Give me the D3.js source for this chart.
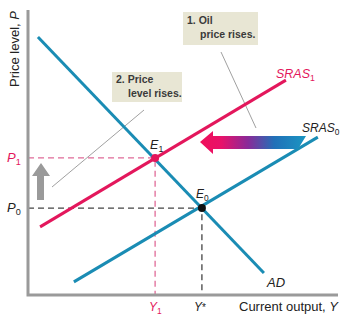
<!DOCTYPE html>
<html>
<head>
<meta charset="utf-8">
<script src="https://cdn.jsdelivr.net/npm/d3@7"></script>
<style>
  body { margin: 0; background: #fff; }
  text { font-family: "Liberation Sans", Arial, sans-serif; fill: #222; }
</style>
</head>
<body>
<div id="chart"></div>
<script>
// curves in chart units (0-100 on both axes)
var adCurve = [[3.2, 90.5], [76.1, 7.7]];
var srasOld = [[14.8, 4.6], [93.5, 55.4]];
var srasNew = [[3.9, 23.9], [83.2, 75.4]];
// equilibria
var eqNames = ['E0', 'E1'];
var eqPoints = [[56.1, 30.5], [41.0, 48.1]];
// tick labels
var yTickLabels = ['P0', 'P1'];
var xTickLabels = ['Y*', 'Y1'];
var notes = [['1. Oil', 'price rises.'], ['2. Price', 'level rises.']];

var W = 342, H = 315;
var pink = '#e3175c', blue = '#1a8cb4', grey = '#9a9a9a';

var x = d3.scaleLinear().domain([0, 100]).range([28, 338]);
var y = d3.scaleLinear().domain([0, 100]).range([295, 10]);

var svg = d3.select('#chart').append('svg')
  .attr('width', W).attr('height', H);

var defs = svg.append('defs');
var grad = defs.append('linearGradient').attr('id', 'shift')
  .attr('x1', '0%').attr('x2', '100%');
[['0%', '#f0105a'], ['20%', '#e8126a'], ['45%', '#8a2a98'], ['70%', '#2170b8'], ['100%', '#1a96c2']]
  .forEach(function(s) {
    grad.append('stop').attr('offset', s[0]).attr('stop-color', s[1]);
  });

var line = d3.line().x(function(d) { return x(d[0]); }).y(function(d) { return y(d[1]); });

// annotation boxes
var boxes = [{x: 183, y: 12, w: 75, h: 33, tx: [187, 200], ty: [24, 38]},
             {x: 112, y: 72, w: 70, h: 30, tx: [116, 128], ty: [83, 97]}];
boxes.forEach(function(b, i) {
  svg.append('rect').attr('x', b.x).attr('y', b.y).attr('width', b.w).attr('height', b.h)
    .attr('fill', '#e8e6d4');
  notes[i].forEach(function(t, j) {
    svg.append('text').attr('x', b.tx[j]).attr('y', b.ty[j])
      .attr('font-size', 10.5).style('font-weight', 'bold').style('fill', '#3a3a3a').text(t);
  });
});
// leader lines
svg.append('line').attr('x1', 221).attr('y1', 52).attr('x2', 256).attr('y2', 128)
  .attr('stroke', '#888').attr('stroke-width', 0.8);
svg.append('line').attr('x1', 144).attr('y1', 110).attr('x2', 52).attr('y2', 187)
  .attr('stroke', '#888').attr('stroke-width', 0.8);

// guide lines
var e0 = eqPoints[0], e1 = eqPoints[1];
svg.append('path').attr('d', line([[0, e0[1]], e0, [e0[0], 0]]))
  .attr('fill', 'none').attr('stroke', '#444').attr('stroke-width', 1.3)
  .attr('stroke-dasharray', '6,4');
svg.append('path').attr('d', line([[0, e1[1]], e1, [e1[0], 0]]))
  .attr('fill', 'none').attr('stroke', '#e06b98').attr('stroke-width', 1.3)
  .attr('stroke-dasharray', '6,4');

// curves
svg.append('path').attr('d', line(adCurve)).attr('stroke', blue).attr('stroke-width', 3).attr('fill', 'none');
svg.append('path').attr('d', line(srasOld)).attr('stroke', blue).attr('stroke-width', 3).attr('fill', 'none');
svg.append('path').attr('d', line(srasNew)).attr('stroke', pink).attr('stroke-width', 3).attr('fill', 'none');

// shift arrow
svg.append('path')
  .attr('d', 'M200,142 L213,131 L213,136 L306,136 L298,149 L213,149 L213,154 Z')
  .attr('fill', 'url(#shift)');
// price up arrow
svg.append('path')
  .attr('d', 'M41,163 L50,176 L44,176 L44,200 L37,200 L37,176 L32,176 Z')
  .attr('fill', grey);

// axes
svg.append('path').attr('d', 'M' + x(0) + ',' + y(100) + 'V' + y(0) + 'H' + x(100))
  .attr('fill', 'none').attr('stroke', grey).attr('stroke-width', 3);

// equilibrium dots
svg.selectAll('.eq').data(eqPoints).enter().append('circle')
  .attr('cx', function(d) { return x(d[0]); }).attr('cy', function(d) { return y(d[1]); })
  .attr('r', 4).attr('fill', function(d, i) { return i ? pink : '#111'; });

function subLabel(px, py, base, sub, color, size, italicBase) {
  var t = svg.append('text').attr('x', px).attr('y', py).attr('font-size', size)
    .style('fill', color);
  t.append('tspan').style('font-style', italicBase ? 'italic' : 'normal').text(base);
  if (sub) t.append('tspan').attr('dy', 3).attr('font-size', size * 0.7).text(sub);
  return t;
}
subLabel(x(e0[0]) - 6, y(e0[1]) - 10, 'E', eqNames[0].slice(1), '#222', 12, true);
subLabel(x(e1[0]) - 5, y(e1[1]) - 9, 'E', eqNames[1].slice(1), '#222', 12.5, true);
subLabel(7, y(e0[1]) + 4, 'P', yTickLabels[0].slice(1), '#222', 13, true);
subLabel(7, y(e1[1]) + 4, 'P', yTickLabels[1].slice(1), pink, 13, true);
subLabel(x(e0[0]) - 8, 311, 'Y', '*', '#222', 12, true).select('tspan:last-child').attr('dy', 0).attr('font-size', 10);
subLabel(x(e1[0]) - 6, 311, 'Y', xTickLabels[1].slice(1), pink, 12, true);
subLabel(276, 78, 'SRAS', '1', pink, 12.5, true);
subLabel(302, 132, 'SRAS', '0', '#222', 12, true);
svg.append('text').attr('x', 267).attr('y', 287).attr('font-size', 13)
  .style('font-style', 'italic').text('AD');

// axis titles
var yt = svg.append('text').attr('transform', 'translate(19,49) rotate(-90)')
  .attr('text-anchor', 'middle').attr('font-size', 13);
yt.append('tspan').text('Price level, ');
yt.append('tspan').style('font-style', 'italic').text('P');
var xt = svg.append('text').attr('x', 338).attr('y', 311).attr('text-anchor', 'end').attr('font-size', 13);
xt.append('tspan').text('Current output, ');
xt.append('tspan').style('font-style', 'italic').text('Y');
</script>
</body>
</html>
